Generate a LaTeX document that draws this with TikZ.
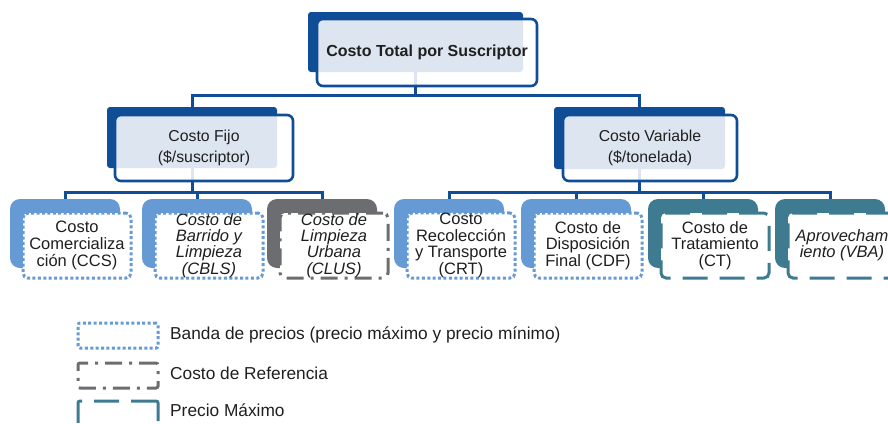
\documentclass[tikz,border=0pt]{standalone}
\usepackage{fontspec}
\setmainfont{Liberation Sans}
\definecolor{dkblue}{RGB}{16,77,151}
\definecolor{ltblue}{RGB}{101,154,212}
\definecolor{cgray}{RGB}{108,109,112}
\definecolor{cteal}{RGB}{62,123,145}
\pgfdeclarelayer{bg}
\pgfsetlayers{bg,main}
\begin{document}
\begin{tikzpicture}[x=1pt,y=-1pt,
  backtop/.style={fill=dkblue, rounded corners=3pt, inner sep=0pt, outer sep=0pt},
  fronttop/.style={draw=dkblue, line width=2.6pt, fill=white, fill opacity=0.86, text opacity=1,
     rounded corners=6pt, align=center, inner sep=0pt, text=black!88},
  back3/.style={rounded corners=10pt, minimum width=110pt, minimum height=69pt, inner sep=0pt, outer sep=0pt},
  front3/.style={fill=white, line width=3pt, rounded corners=5pt, minimum width=108pt, minimum height=65pt,
     align=center, inner sep=0pt, text=black!88, font=\fontsize{16.5}{16.7}\selectfont},
  itf/.style={font=\fontsize{16.5}{16.2}\selectfont\itshape},
  bandline/.style={draw=ltblue, dash pattern=on 3pt off 2.4pt},
  refline/.style={draw=cgray, dash pattern=on 17pt off 7pt on 3pt off 7pt},
  maxline/.style={draw=cteal, dash pattern=on 25pt off 12pt},
  conn/.style={draw=dkblue, line width=3pt},
  legbox/.style={line width=3pt, minimum width=80pt, minimum height=25pt, inner sep=0pt, rounded corners=2pt},
  legtext/.style={anchor=west, inner sep=0pt, text=black!88, font=\fontsize{17.3}{20}\selectfont}
]
\useasboundingbox (0,0) rectangle (888,423);

% level 1
\node[backtop, minimum width=215pt, minimum height=60pt] (top) at (415.5,42) {};
\node[fronttop, minimum width=220pt, minimum height=67pt, font=\fontsize{16}{19}\selectfont\bfseries] (topf) at (427,52.5) {Costo Total por Suscriptor};

% level 2
\node[backtop, minimum width=170pt, minimum height=61pt] (fijo) at (192,137.5) {};
\node[fronttop, minimum width=178pt, minimum height=66pt, font=\fontsize{15.8}{21}\selectfont] (fijof) at (204,148) {Costo Fijo\\(\$/suscriptor)};
\node[backtop, minimum width=171pt, minimum height=62pt] (var) at (639.5,138) {};
\node[fronttop, minimum width=174pt, minimum height=66pt, font=\fontsize{15.8}{21}\selectfont] (varf) at (650,148) {Costo Variable\\(\$/tonelada)};

% level 3 back boxes
\node[back3, fill=ltblue] (ccs) at (65,233.5) {};
\node[back3, fill=ltblue] (cbls) at (197,233.5) {};
\node[back3, fill=cgray] (clus) at (322,233.5) {};
\node[back3, fill=ltblue] (crt) at (449,233.5) {};
\node[back3, fill=ltblue] (cdf) at (576,233.5) {};
\node[back3, fill=cteal] (ct) at (703,233.5) {};
\node[back3, fill=cteal] (vba) at (830,233.5) {};

% level 3 front boxes
\node[front3, bandline] (ccsf) at (77,245.5) {Costo\\Comercializa\\ción (CCS)};
\node[front3, bandline, itf] (cblsf) at (209,245.5) {Costo de\\Barrido y\\Limpieza\\(CBLS)};
\node[front3, refline, itf] (clusf) at (334,245.5) {Costo de\\Limpieza\\Urbana\\(CLUS)};
\node[front3, bandline] (crtf) at (461,245.5) {Costo\\Recolección\\y Transporte\\(CRT)};
\node[front3, bandline] (cdff) at (588,245.5) {Costo de\\Disposición\\Final (CDF)};
\node[front3, maxline] (ctf) at (715,245.5) {Costo de\\Tratamiento\\(CT)};
\node[front3, maxline, itf] (vbaf) at (842,245.5) {Aprovecham\\iento (VBA)};

% connectors
\coordinate (j0) at (top.south |- 0,95);
\coordinate (j1) at (fijo.south |- 0,192);
\coordinate (j2) at (var.south |- 0,192);
\begin{pgfonlayer}{bg}
\draw[conn] (top.south) -- (j0) -| (fijo.north);
\draw[conn] (j0) -| (var.north);
\draw[conn] (fijo.south) -- (j1) -| (ccs.north);
\draw[conn] (j1) -| (cbls.north);
\draw[conn] (j1) -| (clus.north);
\draw[conn] (var.south) -- (j2) -| (crt.north);
\draw[conn] (j2) -| (cdf.north);
\draw[conn] (j2) -| (ct.north);
\draw[conn] (j2) -| (vba.north);
\end{pgfonlayer}

% legend
\node[legbox, bandline] (lg1) at (118,335.5) {};
\node[legtext] (lt1) at (170,335) {Banda de precios (precio máximo y precio mínimo)};
\node[legbox, refline] (lg2) at (118,375.5) {};
\node[legtext] (lt2) at (170,373) {Costo de Referencia};
\node[legbox, maxline] (lg3) at (118,413.5) {};
\node[legtext] (lt3) at (170,410) {Precio Máximo};
\end{tikzpicture}
\end{document}
